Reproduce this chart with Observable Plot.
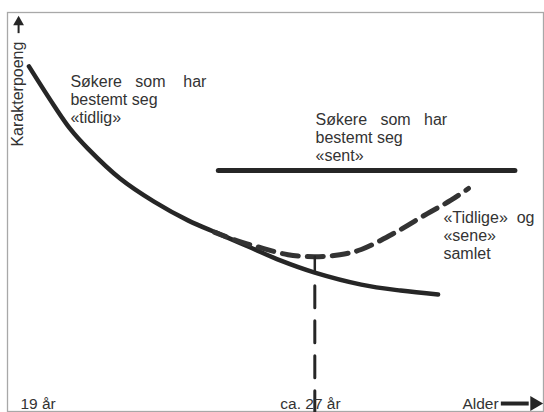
<!DOCTYPE html>
<html><head><meta charset="utf-8">
<script src="https://cdn.jsdelivr.net/npm/d3@7"></script>
<script src="https://cdn.jsdelivr.net/npm/@observablehq/plot@0.6"></script>
<style>body{margin:0;background:#fff}</style>
</head><body><div id="chart"></div>
<script>
// Søkere som har bestemt seg «tidlig» (solid curve)
const ageEarly = [19.0, 19.7, 20.15, 20.65, 21.55, 22.5, 23.45, 24.35, 25.2, 26.05, 27.0, 28.3, 29.4, 30.45];
const pointsEarly = [86.5, 76.7, 70.9, 65.9, 58.4, 52.6, 47.9, 44.4, 41.1, 37.8, 34.8, 31.8, 30.3, 29.3];
// «Tidlige» og «sene» samlet (dashed curve)
const ageCombined = [24.2, 24.9, 25.55, 26.25, 27.0, 27.7, 28.3, 29.2, 30.15, 30.8, 31.3];
const pointsCombined = [44.9, 42.6, 40.9, 39.3, 38.8, 39.3, 40.6, 44.6, 49.6, 52.9, 55.9];
// Søkere som har bestemt seg «sent» (flat line)
const ageLate = [24.3, 32.6];
const pointsLate = [60.4, 60.4];
// Age of the minimum of the combined curve
const minAge = 27;
const xTicks = [19, 27];
const xTickLabels = ["19 år", "ca. 27 år"];
const xLabel = "Alder";
const yLabel = "Karakterpoeng";
const labelEarly = "Søkere\u00a0\u00a0\u00a0som\u00a0\u00a0\u00a0\u00a0har\nbestemt seg\n«tidlig»";
const labelLate = "Søkere\u00a0\u00a0\u00a0som\u00a0\u00a0\u00a0har\nbestemt seg\n«sent»";
const labelCombined = "«Tidlige»\u00a0\u00a0og\n«sene»\nsamlet";

const early = ageEarly.map((a, i) => ({age: a, p: pointsEarly[i]}));
const combined = ageCombined.map((a, i) => ({age: a, p: pointsCombined[i]}));
const late = ageLate.map((a, i) => ({age: a, p: pointsLate[i]}));
const minCombined = pointsCombined[ageCombined.indexOf(minAge)];
const earlyAtMin = pointsEarly[ageEarly.indexOf(minAge)];

const ink = "#262626";
const txt = "#333";
const font = 16;

const chart = Plot.plot({
  width: 544,
  height: 412,
  marginLeft: 7,
  marginTop: 12,
  marginRight: 1,
  marginBottom: 1,
  style: {fontFamily: "'Liberation Sans', Arial, sans-serif", background: "#fff"},
  x: {domain: [18.4, 33.4], axis: null},
  y: {domain: [0, 100], axis: null},
  marks: [
    Plot.frame({stroke: "#a8a8a8", strokeWidth: 1.3}),
    // flat line «sent»
    Plot.line(late, {x: "age", y: "p", stroke: ink, strokeWidth: 5}),
    // solid curve «tidlig»
    Plot.line(early, {x: "age", y: "p", stroke: ink, strokeWidth: 4.5, curve: "catmull-rom"}),
    // dashed combined curve
    Plot.line(combined, {x: "age", y: "p", stroke: "#333", strokeWidth: 5, strokeDasharray: "16,9", strokeDashoffset: 4, curve: "catmull-rom"}),
    // vertical marker at minimum
    Plot.line([{age: minAge, p: minCombined}, {age: minAge, p: earlyAtMin}], {x: "age", y: "p", stroke: ink, strokeWidth: 2.5}),
    Plot.line([{age: minAge, p: earlyAtMin}, {age: minAge, p: 0}], {x: "age", y: "p", stroke: ink, strokeWidth: 3, strokeDasharray: "22,13", strokeDashoffset: 22}),
    // annotations
    Plot.text([labelEarly], {x: 20.16, y: 72.2, text: d => d, textAnchor: "start", lineAnchor: "bottom", lineHeight: 1.14, fontSize: font, fill: txt}),
    Plot.text([labelLate], {x: 27.02, y: 62.7, text: d => d, textAnchor: "start", lineAnchor: "bottom", lineHeight: 1.13, fontSize: font, fill: txt}),
    Plot.text([labelCombined], {x: 30.6, y: 38.1, text: d => d, textAnchor: "start", lineAnchor: "bottom", lineHeight: 1.13, fontSize: font, fill: txt}),
    // x tick labels
    Plot.text([xTickLabels[0]], {x: xTicks[0], y: 0.75, text: d => d, textAnchor: "start", lineAnchor: "bottom", dx: -8.5, fontSize: 15.5, fill: txt}),
    Plot.text([xTickLabels[1]], {x: xTicks[1], y: 0.75, text: d => d, textAnchor: "start", lineAnchor: "bottom", dx: -34.5, fontSize: 15.5, fill: txt}),
    // x axis label with thick arrow
    Plot.text([xLabel], {x: 31.13, y: 0.75, text: d => d, textAnchor: "start", lineAnchor: "bottom", fontSize: 15.5, fill: txt}),
    Plot.ruleY([2.0], {x1: 32.22, x2: 33.0, stroke: ink, strokeWidth: 4}),
    Plot.dot([0], {x: 33.15, y: 2.0, symbol: "triangle", r: 5.5, rotate: 90, fill: ink, stroke: null}),
    // y axis label with arrow
    Plot.text([yLabel], {x: 18.82, y: 66.4, text: d => d, rotate: -90, textAnchor: "start", lineAnchor: "bottom", fontSize: font, fill: txt}),
    Plot.ruleX([18.71], {y1: 94.7, y2: 97.3, stroke: ink, strokeWidth: 2}),
    Plot.dot([0], {x: 18.71, y: 97.6, symbol: "triangle", r: 4, fill: ink, stroke: null})
  ]
});
document.getElementById("chart").appendChild(chart);
</script>
</body></html>
